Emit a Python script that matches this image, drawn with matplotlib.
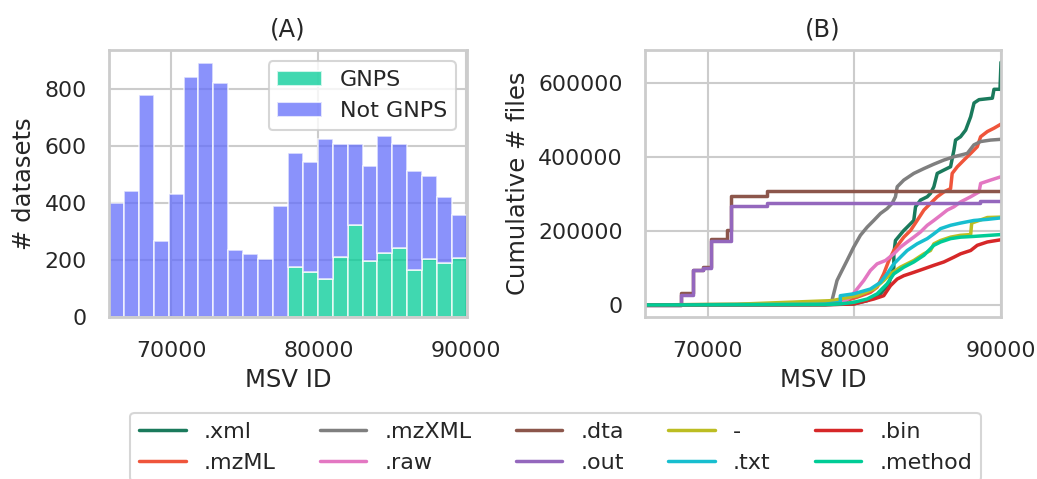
import matplotlib
matplotlib.use("Agg")
import matplotlib.pyplot as plt
from matplotlib.patches import Patch
import numpy as np
import seaborn as sns

# datasets per MSV ID bin (24 bins)
bin_start = 65790
bin_stop = 90075
gnps_counts = [0, 0, 0, 0, 0, 0, 0, 0, 0, 0, 0, 0,
               177, 159, 133, 210, 324, 195, 224, 241, 164, 202, 188, 208]
not_gnps_counts = [401, 442, 779, 265, 431, 841, 891, 822, 236, 222, 204, 389,
                   398, 383, 492, 395, 284, 334, 411, 364, 349, 291, 233, 151]

# cumulative file counts per extension
xml_ids = [65720, 78000, 79950, 80870, 81780, 82350, 82690, 82690, 82800, 83370, 83600,
           84050, 84170, 84510, 84970, 85190, 85420, 85650, 86100, 86560, 86790, 86900,
           87240, 87590, 87930, 88160, 88500, 89410, 89520, 89930, 90000]
xml_n = [0, 1000, 2700, 11700, 30000, 57000, 102000, 138000, 174000, 201000, 210000,
         228000, 265000, 283000, 292000, 301000, 319000, 355000, 364000, 373000, 418000, 445000,
         454000, 472000, 508000, 545000, 554000, 558000, 582000, 582000, 655000]

mzml_ids = [65720, 78000, 79040, 80180, 81090, 81550, 82000, 82350, 82690, 83030, 83370,
            83830, 84280, 84740, 85190, 85650, 86100, 86560, 86670, 87020, 87470, 87930,
            88380, 88610, 89070, 89520, 90000]
mzml_n = [0, 1000, 7000, 21000, 34000, 48000, 84000, 120000, 147000, 165000, 183000,
          201000, 228000, 256000, 274000, 292000, 305000, 314000, 355000, 373000, 391000, 409000,
          427000, 454000, 468000, 477000, 488000]

mzxml_ids = [65720, 72000, 78000, 78470, 78815, 79040, 79500, 79950, 80410, 80870, 81320,
             81780, 82230, 82570, 82800, 82920, 83370, 84050, 84740, 85420, 86100, 86790,
             87700, 88150, 88610, 89290, 90000]
mzxml_n = [0, 1500, 6000, 11700, 66000, 84000, 120000, 156000, 188000, 210000, 228000,
           247000, 260000, 274000, 292000, 319000, 337000, 355000, 368000, 380000, 391000, 400000,
           409000, 432000, 441000, 445000, 447000]

raw_ids = [65720, 78000, 79040, 79730, 80180, 80640, 81090, 81550, 82120, 82690, 83140,
           83600, 84050, 84510, 84970, 85420, 85880, 86330, 86790, 87240, 87930, 88500,
           88610, 89290, 90000]
raw_n = [0, 1000, 2700, 21000, 43000, 66000, 93000, 111000, 120000, 138000, 156000,
         170000, 183000, 197000, 215000, 228000, 242000, 256000, 265000, 278000, 292000, 305000,
         328000, 337000, 346000]

dta_ids = [65720, 68155, 69020, 69660, 70230, 71340, 71570, 74030, 90000]
dta_n = [0, 32000, 95000, 102000, 178000, 201000, 294000, 307000, 307000]

out_ids = [65720, 68155, 69020, 69660, 70230, 71570, 74030, 88600, 90000]
out_n = [0, 28000, 93000, 99000, 173000, 267000, 276000, 280000, 281000]

dash_ids = [65720, 72000, 78470, 79040, 80180, 81320, 82000, 82460, 83140, 84050, 84740,
            85190, 85420, 85880, 86560, 87240, 87930, 88000, 89070, 90000]
dash_n = [0, 2000, 11700, 16000, 25000, 43000, 66000, 84000, 102000, 120000, 138000,
          147000, 165000, 174000, 183000, 188000, 190000, 221000, 236000, 237000]

txt_ids = [65720, 78000, 79040, 79040, 79950, 81090, 81780, 82230, 82690, 83140, 83600,
           84280, 84970, 85420, 85880, 86560, 87240, 88150, 89070, 90000]
txt_n = [0, 2000, 7000, 25000, 30000, 43000, 61000, 84000, 111000, 129000, 147000,
         165000, 179000, 192000, 206000, 215000, 221000, 228000, 231000, 235000]

bin_ids = [65720, 78000, 79950, 80410, 81320, 82000, 82460, 82920, 83370, 84050, 84740,
           85420, 86100, 86790, 87240, 87930, 88380, 89070, 90000]
bin_n = [0, 500, 2700, 7000, 16000, 25000, 52000, 70000, 79000, 88000, 97500,
         107000, 116000, 129000, 138000, 147000, 161000, 170000, 176000]

method_ids = [65720, 78000, 79040, 79950, 80870, 81550, 82230, 82690, 83370, 84050, 84740,
              85420, 85880, 86560, 87240, 88150, 90000]
method_n = [0, 1000, 2700, 7000, 16000, 30000, 57000, 84000, 102000, 116000, 134000,
            161000, 170000, 179000, 183000, 185000, 190000]

extensions = [
    (".xml", xml_ids, xml_n, "#1a7a5c", "default"),
    (".mzML", mzml_ids, mzml_n, "#ef553b", "default"),
    (".mzXML", mzxml_ids, mzxml_n, "#7f7f7f", "default"),
    (".raw", raw_ids, raw_n, "#e377c2", "default"),
    (".dta", dta_ids, dta_n, "#8c564b", "steps-post"),
    (".out", out_ids, out_n, "#9467bd", "steps-post"),
    ("-", dash_ids, dash_n, "#bcbd22", "default"),
    (".txt", txt_ids, txt_n, "#17becf", "default"),
    (".bin", bin_ids, bin_n, "#d62728", "default"),
    (".method", method_ids, method_n, "#00cc96", "default"),
]


def main():
    sns.set_theme(context="talk", style="whitegrid")
    plt.rcParams["font.family"] = ["DejaVu Sans"]
    plt.rcParams.update({
        "xtick.labelsize": 15.8,
        "ytick.labelsize": 15.8,
        "axes.labelsize": 17.5,
        "axes.titlesize": 17.5,
        "legend.fontsize": 16.0,
        "legend.handlelength": 2.1,
        "xtick.major.size": 0,
        "ytick.major.size": 0,
        "xtick.major.pad": 17,
        "ytick.major.pad": 16,
        "axes.linewidth": 2.0,
        "grid.linewidth": 1.5,
    })

    fig = plt.figure(figsize=(10.37, 4.79), dpi=100)
    ax_a = fig.add_axes([0.1051, 0.338, 0.3452, 0.5574])
    ax_b = fig.add_axes([0.622, 0.338, 0.3433, 0.5574])

    # (A) stacked histogram of datasets
    edges = np.linspace(bin_start, bin_stop, len(gnps_counts) + 1)
    width = edges[1] - edges[0]
    gnps = np.array(gnps_counts)
    not_gnps = np.array(not_gnps_counts)
    ax_a.bar(edges[:-1], gnps, width=width, align="edge", color="#00cc96", alpha=0.75,
             edgecolor="white", linewidth=1.2, zorder=2)
    ax_a.bar(edges[:-1], not_gnps, bottom=gnps, width=width, align="edge", color="#636efa",
             alpha=0.75, edgecolor="white", linewidth=1.2, zorder=2)
    ax_a.set_xlim(bin_start, bin_stop)
    ax_a.set_yticks([0, 200, 400, 600, 800])
    ax_a.set_xticks([70000, 80000, 90000])
    ax_a.set_xlabel("MSV ID", labelpad=5)
    ax_a.set_ylabel("# datasets", labelpad=6)
    ax_a.set_title("(A)", pad=10)
    handles = [Patch(facecolor="#00cc96", alpha=0.75, label="GNPS"),
               Patch(facecolor="#636efa", alpha=0.75, label="Not GNPS")]
    ax_a.legend(handles=handles, loc="upper right", handlelength=2.0)

    # (B) cumulative files per extension
    lines = []
    for name, ids, n, color, style in extensions:
        line, = ax_b.plot(ids, n, color=color, drawstyle=style, linewidth=2.5, label=name)
        lines.append(line)
    ax_b.set_xlim(65720, 90000)
    ax_b.set_xticks([70000, 80000, 90000])
    ax_b.set_yticks([0, 200000, 400000, 600000])
    ax_b.set_xlabel("MSV ID", labelpad=5)
    ax_b.set_ylabel("Cumulative # files", labelpad=6)
    ax_b.set_title("(B)", pad=10)

    fig.legend(handles=lines, ncol=5, loc="upper center", bbox_to_anchor=(0.5357, 0.1378),
               borderaxespad=0)

    fig.savefig("out.png", dpi=100)


if __name__ == "__main__":
    main()
